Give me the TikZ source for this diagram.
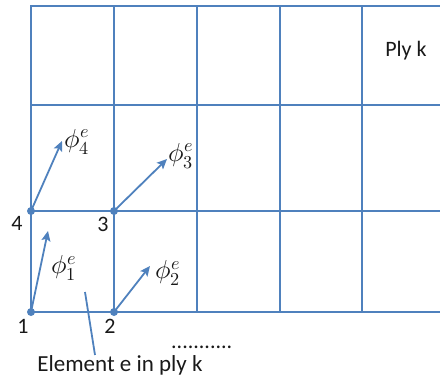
\documentclass[tikz,border=0pt]{standalone}
\usepackage{fontspec}
\usepackage{unicode-math}
\setmainfont{Carlito}
\setmathfont{Latin Modern Math}
\usetikzlibrary{arrows.meta}
\definecolor{gridblue}{RGB}{79,129,189}
\definecolor{txt}{RGB}{25,25,25}
\tikzset{
  gridline/.style={draw=gridblue,line width=2.6pt},
  vec/.style={draw=gridblue,line width=1.8pt,-{Stealth[length=10pt,width=9pt,inset=2pt]}},
  dotnode/.style={circle,fill=gridblue,inner sep=0pt,minimum size=8pt},
  lbl/.style={text=txt,font=\fontsize{22}{26}\selectfont,inner sep=0pt},
  mlbl/.style={text=txt,font=\fontsize{26}{30}\selectfont,inner sep=0pt},
}
\begin{document}
\begin{tikzpicture}[x=1pt,y=-1pt]
\useasboundingbox (0,0) rectangle (440,381);
% grid
\foreach \yy in {6,105,211,312} \draw[gridline] (30,\yy) -- (440,\yy);
\foreach \xx in {31,114,197,280,362} \draw[gridline] (\xx,6) -- (\xx,312);
% nodes
\node[dotnode] (n4) at (31,211) {};
\node[dotnode] (n3) at (114,211) {};
\node[dotnode] (n1) at (31,312) {};
\node[dotnode] (n2) at (114,312) {};
% vector tips
\coordinate (t4) at (62,141);
\coordinate (t3) at (167,159);
\coordinate (t1) at (48,231);
\coordinate (t2) at (150,266);
\draw[vec] (n4.center) -- (t4);
\draw[vec] (n3.center) -- (t3);
\draw[vec] (n1.center) -- (t1);
\draw[vec] (n2.center) -- (t2);
% labels
\node[mlbl] (p4) at (77,142) {$\phi_4^e$};
\node[mlbl] (p3) at (181,156) {$\phi_3^e$};
\node[mlbl] (p1) at (64,268) {$\phi_1^e$};
\node[mlbl] (p2) at (168,273) {$\phi_2^e$};
\node[lbl] (l4) at (17,223) {4};
\node[lbl] (l3) at (103,224) {3};
\node[lbl] (l1) at (23,326) {1};
\node[lbl] (l2) at (110,326) {2};
\node[lbl] (ply) at (406,51) {Ply k};
\node[lbl,font=\fontsize{23}{26}\selectfont] (elem) at (120,365) {Element e in ply k};
\node[lbl,anchor=base west] (dots) at (171,348) {...........};
\coordinate (ptop) at (85,292);
\draw[draw=gridblue,line width=1.8pt] (ptop) -- (elem.north -| 95,0);
\end{tikzpicture}
\end{document}
